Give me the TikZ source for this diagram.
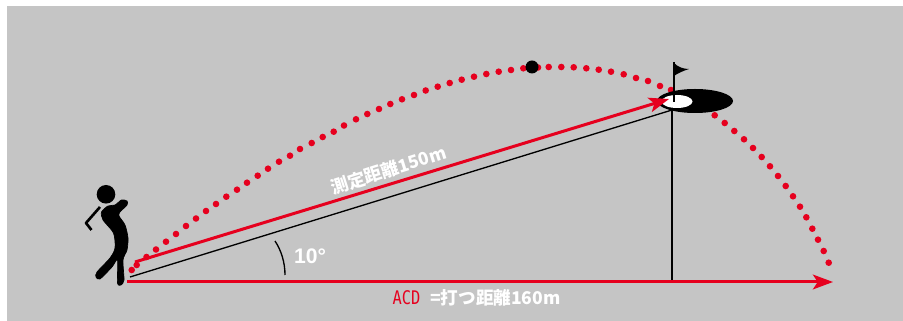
\documentclass[tikz,border=0pt]{standalone}
\usepackage{xcolor}
\usepackage{fontspec}
\setmainfont{Liberation Sans}
\newfontfamily\cjk{Noto Sans CJK JP}
\newfontfamily\acdfont{DejaVu Sans Mono}
\usetikzlibrary{arrows.meta, positioning}
\definecolor{golfred}{RGB}{230,0,30}
\definecolor{panelgray}{RGB}{197,197,197}

\begin{document}
\begin{tikzpicture}[
    x=0.03cm, y=-0.03cm,
    redline/.style={draw=golfred, line width=0.09cm, -{Stealth[length=0.6cm, width=0.44cm, inset=0.14cm]}},
    blackline/.style={draw=black, line width=0.04cm},
    label/.style={text=white, font=\cjk\bfseries\fontsize{15}{17}\selectfont, inner sep=0pt},
    flightdot/.style={fill=golfred}
]

\useasboundingbox (0,0) rectangle (903,321);

% Background
\fill[panelgray] (7,6) rectangle (903,321);

% Anchor points
\coordinate (tee) at (127,282);
\coordinate (foot) at (672,282);
\coordinate (far) at (833,282);
\coordinate (teetop) at (130,277);
\coordinate (pin) at (672,110);
\coordinate (start) at (135,262);
\coordinate (hole) at (669,99);

% Ball flight
\foreach \px/\py in {131.7/270, 136.7/265, 146.5/257, 156/249.5, 166/241.7, 176/234, 186/226, 196/218.5, 206/211, 216/204,
    226.3/196.7, 237/189.7, 247/182.7, 257.7/175.7, 268/168.7, 279/161.7, 290/155.7, 300/149, 311.7/143, 322.7/137,
    333.7/131.7, 344/125.5, 356/119.3, 367.3/114, 379/109, 390.3/104, 402/99.3, 414/95, 425.7/90.5, 437.7/86.7,
    449.7/83, 461.7/79.7, 474/76.7, 486.3/74, 498.7/71.7, 511/70, 523.3/68.3, 538/67.5, 548.7/67, 561.3/67,
    573.7/67.3, 586.3/68.3, 598.7/69.7, 611/71.7, 623.7/74.3, 636/78, 648/81, 660/86, 671/90,
    714.7/115.3, 724.7/123, 734.3/131, 744/139.3, 753/148, 761.7/157, 770/166.3, 778/176, 785.7/186, 793/196.3,
    800/206.7, 806.3/217.3, 812.3/228.7, 818/239.7, 823.7/251, 828.7/262.7} {
    \fill[flightdot] (\px,\py) circle (3.3);
}
\fill[black] (532,67) circle (6.5);

% Green and flag
\fill[black] (695,101) ellipse (38 and 12);
\fill[white] (677,101.5) ellipse (15.5 and 6.5);
\draw[black, line width=0.05cm] (674,62) -- (674,102);
\fill[black] (674,63) .. controls (678,67) and (683,69) .. (689,69) .. controls (683,71) and (678,73) .. (674,76) -- cycle;

% Lines
\draw[blackline] (teetop) -- (pin);
\draw[blackline] (pin) -- (foot);
\draw[redline] (start) -- (hole);
\draw[redline] (tee) -- (far);

% Angle
\draw[blackline] (275,241) .. controls (281,250) and (285,262) .. (285,275);

% Labels
\node[label, rotate=17.5] (measured) at (388.5,170) {測定距離150m};
\node[text=white, font=\bfseries\fontsize{18}{20}\selectfont, inner sep=0pt] (angle) at (310,256) {10°};
\node[label, anchor=west] (carry) at (430,298) {=打つ距離160m};
\node[text=golfred, font=\acdfont\fontsize{16}{18}\selectfont, xscale=0.82, inner sep=0pt, left=8pt of carry.west] (acd) {ACD};

% Golfer
\fill[black] (106,194.3) circle (9.3);
\filldraw[black, line width=0.02cm] plot[smooth cycle, tension=0.45] coordinates {(101.5,212) (108,206) (115,205) (121.5,200) (127,201) (127,205) (120,212) (119,216) (125,225) (128,238) (127,250) (123,260) (124,280) (121,285) (117.5,283) (117.5,260) (112,267) (100,279) (96,277) (97,272) (110,258) (115,248) (113.5,233) (103,220)};
\draw[black, line width=0.08cm, line join=round] (100,207) -- (86,223) -- (91.5,230);

\end{tikzpicture}
\end{document}
